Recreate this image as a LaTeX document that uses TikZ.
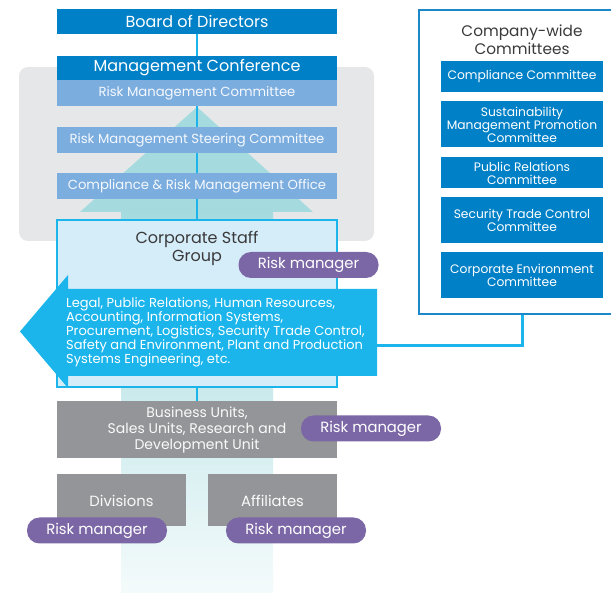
\documentclass[tikz,border=0pt]{standalone}
\usepackage{fontspec}
\setmainfont{Poppins}
\usetikzlibrary{calc}
\definecolor{dblue}{HTML}{0080C6}
\definecolor{lblue}{HTML}{7BADDF}
\definecolor{bggray}{HTML}{E6E7E8}
\definecolor{teal1}{HTML}{A5DBDF}
\definecolor{cyan1}{HTML}{1BB5EB}
\definecolor{csfill}{HTML}{D5ECF9}
\definecolor{purp}{HTML}{7B67A5}
\definecolor{gbox}{HTML}{939598}
\definecolor{dtext}{HTML}{3A3A3A}
\definecolor{cwborder}{HTML}{1C87C9}
\begin{document}
\begin{tikzpicture}[x=1pt,y=-1pt,
  wide/.style={minimum width=280pt, inner sep=0pt, align=center},
  darkbox/.style={wide, fill=dblue, text=white, font=\fontsize{16}{18}\selectfont},
  lightbox/.style={wide, fill=lblue, text=white!93!lblue, minimum height=26pt, font=\fontsize{13.2}{14}\selectfont},
  graybox/.style={fill=gbox, text=white!95!gbox, inner sep=0pt, align=center, font=\fontsize{14}{16}\selectfont},
  pill/.style={fill=purp, text=white, rounded corners=12.5pt, minimum width=140pt, minimum height=26pt, inner sep=0pt, font=\fontsize{14.8}{16}\selectfont},
  cbox/.style={fill=dblue, text=white, minimum width=162pt, inner sep=0pt, align=center, font=\fontsize{12.3}{13}\selectfont},
  cline/.style={draw=cyan1, line width=3pt}
]
\useasboundingbox (0,0) rectangle (611,593);
\clip (0,0) rectangle (611,593);

% gray background group
\node[fill=bggray, rounded corners=9pt, minimum width=355pt, minimum height=174pt, inner sep=0pt] (gray) at (196.5,154) {};

% teal upward arrow
\shade[top color=teal1, bottom color=teal1!12] (121,211) rectangle (273,593);
\fill[teal1] (197,107) -- (313,212) -- (80,212) -- cycle;

% main boxes and vertical line
\node[darkbox, minimum height=25pt] (board) at (197,21.5) {Board of Directors};
\node[graybox, minimum width=280pt, minimum height=57pt] (bu) at (197,430) {Business Units,\\Sales Units, Research and\\Development Unit};
\draw[draw=cyan1, line width=2.6pt] (board.south) -- (bu.north);

\node[darkbox, minimum height=24pt] (mc) at (197,68) {Management Conference};
\node[lightbox] (rmc) at (197,93.5) {Risk Management Committee};
\node[lightbox] (rmsc) at (197,140.5) {Risk Management Steering Committee};
\node[lightbox] (crmo) at (197,186.5) {Compliance \& Risk Management Office};

% corporate staff group
\node[fill=csfill, draw=cyan1, line width=1.3pt, minimum width=280pt, minimum height=167pt, inner sep=0pt] (cs) at (197,303.5) {};
\node[text=dtext, align=center, font=\fontsize{16}{18}\selectfont] (cstitle) at (197,248) {Corporate Staff\\Group};
\node[pill] (rm1) at (308.5,265) {Risk manager};

% big left arrow
\fill[cyan1] (377,289) -- (68,289) -- (68,275) -- (20,331.5) -- (68,388) -- (68,376) -- (377,376) -- cycle;
\node[anchor=west, align=left, text=white, inner sep=0pt, font=\fontsize{13}{14}\selectfont] (funcs) at (66,332)
 {Legal, Public Relations, Human Resources,\\Accounting, Information Systems,\\Procurement, Logistics, Security Trade Control,\\Safety and Environment, Plant and Production\\Systems Engineering, etc.};
\coordinate (arrR) at (377,346);

% business units etc.
\node[pill] (rm2) at (371,428.5) {Risk manager};
\node[graybox, minimum width=129pt, minimum height=52pt, font=\fontsize{14.8}{16}\selectfont] (div) at (121.5,500.5) {Divisions};
\node[graybox, minimum width=129pt, minimum height=52pt, font=\fontsize{14.8}{16}\selectfont] (aff) at (272.5,500.5) {Affiliates};
\node[pill] (rm3) at (97,530.5) {Risk manager};
\node[pill] (rm4) at (296,530.5) {Risk manager};

% company-wide committees
\node[draw=cwborder, line width=1.3pt, fill=white, minimum width=206pt, minimum height=304pt, inner sep=0pt] (cw) at (522,162) {};
\node[text=dtext, align=center, font=\fontsize{15.3}{18}\selectfont] (cwtitle) at (522,40) {Company-wide\\Committees};
\node[cbox, minimum height=31pt] (c1) at (522,76.5) {Compliance Committee};
\node[cbox, minimum height=46pt] (c2) at (522,124.5) {Sustainability\\Management Promotion\\Committee};
\node[cbox, minimum height=31pt] (c3) at (522,173) {Public Relations\\Committee};
\node[cbox, minimum height=46pt] (c4) at (522,220.5) {Security Trade Control\\Committee};
\node[cbox, minimum height=46pt] (c5) at (522,275.5) {Corporate Environment\\Committee};

% connectors
\draw[cline] ($(gray.east)+(0,3)$) -- ($(gray.east)+(0,3)$ -| cw.west);
\draw[cline] (cw.south) |- (arrR);
\end{tikzpicture}
\end{document}
